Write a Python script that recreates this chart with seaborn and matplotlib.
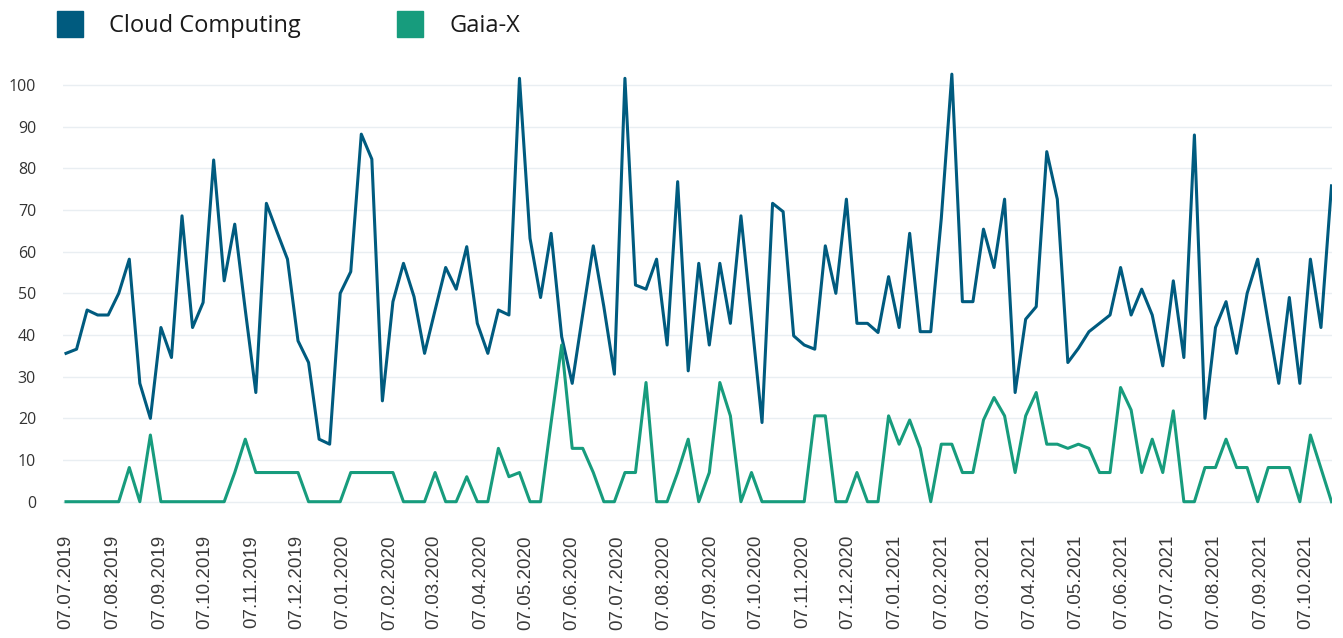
import pandas as pd
import numpy as np
import matplotlib.pyplot as plt
from matplotlib.lines import Line2D
import seaborn as sns

# weekly values, 07.07.2019 - 24.10.2021
weeks = pd.date_range("2019-07-07", periods=121, freq="7D")

cloud_computing = [
    35.6, 36.6, 46, 44.8, 44.8, 50, 58.2, 28.4, 20, 41.8, 34.6, 68.6, 41.8, 47.8,
    82, 53, 66.6, 46, 26.2, 71.6, 64.8, 58.2, 38.6, 33.4, 15, 13.8, 50,
    55.2, 88.2, 82.2, 24.2, 48, 57.2, 49.2, 35.6, 46, 56.2, 51, 61.2, 42.8, 35.6,
    46, 44.8, 101.6, 63.2, 49, 64.4, 39.6, 28.4, 45, 61.4, 46.8, 30.6, 101.6, 52,
    51, 58.2,
    37.6, 76.8, 31.4, 57.2, 37.6, 57.2, 42.8, 68.6, 44, 19, 71.6, 69.6, 39.8, 37.6,
    36.6, 61.4, 50, 72.6, 42.8, 42.8, 40.6, 54, 41.8, 64.4, 40.8, 40.8, 68, 102.6,
    48, 48,
    65.4, 56.2, 72.6, 26.2, 43.8, 46.8, 84, 72.6, 33.4, 36.8, 40.8, 42.8, 44.8,
    56.2, 44.8, 51, 44.8, 32.6, 53, 34.6, 88, 20, 41.8, 48, 35.6, 50, 58.2, 43,
    28.4, 49, 28.4, 58.2, 41.8, 75.8,
]

gaia_x = [
    0, 0, 0, 0, 0, 0, 8.2, 0, 16, 0, 0, 0, 0, 0, 0, 0, 7, 15, 7, 7, 7, 7, 7, 0, 0,
    0, 0,
    7, 7, 7, 7, 7, 0, 0, 0, 7, 0, 0, 6, 0, 0, 12.8, 6, 7, 0, 0, 19, 37.6, 12.8,
    12.8, 7, 0, 0, 7, 7, 28.6, 0,
    0, 7, 15, 0, 7, 28.6, 20.6, 0, 7, 0, 0, 0, 0, 0, 20.6, 20.6, 0, 0, 7, 0, 0,
    20.6, 13.8, 19.6, 12.8, 0, 13.8, 13.8, 7, 7,
    19.6, 25, 20.6, 7, 20.6, 26.2, 13.8, 13.8, 12.8, 13.8, 12.8, 7, 7, 27.4, 22,
    7, 15, 7, 21.8, 0, 0, 8.2, 8.2, 15, 8.2, 8.2, 0, 8.2, 8.2, 8.2, 0, 16, 8, 0,
]

series_names = ["Cloud Computing", "Gaia-X"]
colors = ["#005b7f", "#179c7d"]

df = pd.DataFrame({"date": weeks, series_names[0]: cloud_computing, series_names[1]: gaia_x})
long = df.melt(id_vars="date", var_name="series", value_name="value")

tick_dates = pd.date_range("2019-07-01", "2021-10-01", freq="MS") + pd.Timedelta(days=6)

plt.rcParams["font.family"] = ["Open Sans", "DejaVu Sans"]

fig = plt.figure(figsize=(13.43, 6.38), dpi=100)
ax = fig.add_axes([63 / 1343, 0.2071, 1269 / 1343, 0.6989])

sns.lineplot(data=long, x="date", y="value", hue="series", hue_order=series_names,
             palette=colors, linewidth=2.2, legend=False, ax=ax)

ax.set_ylim(-1, 106)
ax.set_xlim(weeks[0] - pd.Timedelta(days=2), weeks[-1] + pd.Timedelta(hours=8))
ax.set_yticks(np.arange(0, 101, 10))
ax.set_xticks(tick_dates)
ax.set_xticklabels([d.strftime("%d.%m.%Y") for d in tick_dates], rotation=90,
                   family="Liberation Sans", fontsize=13.5, color="#3a3a3a")
ax.tick_params(axis="x", length=0, pad=21)
ax.tick_params(axis="y", length=0, pad=19.4, labelsize=11.5, labelcolor="#333333")
ax.set_xlabel("")
ax.set_ylabel("")
ax.grid(axis="y", color="#e9eef2", linewidth=1)
ax.set_axisbelow(True)
for s in ax.spines.values():
    s.set_visible(False)

handles = [Line2D([], [], marker="s", linestyle="", markersize=18.7, color=c) for c in colors]
fig.legend(handles, series_names, loc="center left", bbox_to_anchor=(57 / 1343, 1 - 26 / 638),
           ncol=2, frameon=False, fontsize=17, handlelength=1.1, handletextpad=1.1,
           columnspacing=4.1, borderpad=0, borderaxespad=0, labelcolor="#1a1a1a")

fig.savefig("out.png", dpi=100)
